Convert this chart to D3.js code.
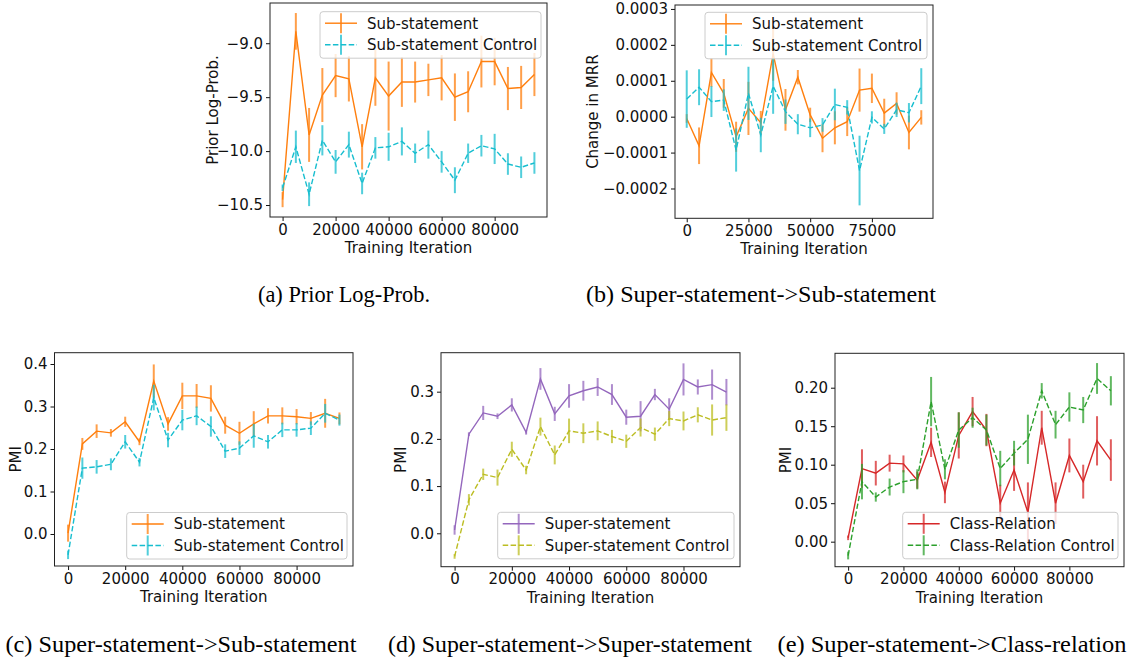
<!DOCTYPE html>
<html>
<head>
<meta charset="utf-8">
<script src="https://cdn.jsdelivr.net/npm/d3@7"></script>
<style>
  body { margin: 0; background: #fff; }
  svg { display: block; }
  text { font-family: "DejaVu Sans", sans-serif; }
  .caption { font-family: "Liberation Serif", "Times New Roman", serif; }
</style>
</head>
<body>
<svg id="fig" width="1132" height="659"></svg>
<script>
// training iterations shared by every panel
const iterations = [0, 5000, 10000, 15000, 20000, 25000, 30000, 35000, 40000, 45000,
                    50000, 55000, 60000, 65000, 70000, 75000, 80000, 85000, 90000, 95000];

// (a) prior log-prob
const priorSub      = [-10.45, -8.89, -9.85, -9.48, -9.30, -9.33, -9.96, -9.32, -9.49, -9.36,
                       -9.36, -9.34, -9.32, -9.50, -9.45, -9.17, -9.17, -9.42, -9.41, -9.29];
const priorSubErr   = [0.07, 0.17, 0.25, 0.25, 0.20, 0.21, 0.21, 0.26, 0.32, 0.23,
                       0.19, 0.15, 0.21, 0.22, 0.19, 0.24, 0.22, 0.20, 0.20, 0.20];
const priorCtrl     = [-10.34, -9.96, -10.40, -9.90, -10.10, -9.94, -10.30, -9.97, -9.96, -9.91,
                       -10.02, -9.94, -10.10, -10.27, -10.02, -9.95, -9.98, -10.12, -10.15, -10.11];
const priorCtrlErr  = [0.03, 0.15, 0.11, 0.14, 0.11, 0.12, 0.10, 0.10, 0.13, 0.13,
                       0.09, 0.13, 0.10, 0.12, 0.09, 0.10, 0.14, 0.10, 0.10, 0.10];

// (b) change in MRR
const mrrSub     = [-0.05e-4, -0.81e-4, 1.23e-4, 0.65e-4, -0.56e-4, 0.23e-4, -0.17e-4, 1.75e-4, 0.19e-4, 1.10e-4,
                    0.05e-4, -0.60e-4, -0.31e-4, -0.14e-4, 0.74e-4, 0.79e-4, 0.10e-4, 0.37e-4, -0.44e-4, -0.02e-4];
const mrrSubErr  = [0.12e-4, 0.51e-4, 0.40e-4, 0.40e-4, 0.42e-4, 0.74e-4, 0.33e-4, 0.75e-4, 0.58e-4, 0.20e-4,
                    0.20e-4, 0.39e-4, 0.46e-4, 0.40e-4, 0.60e-4, 0.41e-4, 0.40e-4, 0.31e-4, 0.47e-4, 0.20e-4];
const mrrCtrl    = [0.49e-4, 0.82e-4, 0.42e-4, 0.46e-4, -0.93e-4, 0.65e-4, -0.51e-4, 0.85e-4, 0.14e-4, -0.21e-4,
                    -0.31e-4, -0.23e-4, 0.34e-4, 0.26e-4, -1.50e-4, -0.02e-4, -0.34e-4, 0.19e-4, 0.11e-4, 0.85e-4];
const mrrCtrlErr = [0.80e-4, 0.50e-4, 0.43e-4, 0.30e-4, 0.60e-4, 0.74e-4, 0.48e-4, 0.77e-4, 0.34e-4, 0.28e-4,
                    0.26e-4, 0.19e-4, 0.44e-4, 0.20e-4, 0.97e-4, 0.17e-4, 0.14e-4, 0.20e-4, 0.27e-4, 0.50e-4];

// (c) PMI super -> sub
const pmiSub        = [0.002, 0.212, 0.242, 0.238, 0.264, 0.217, 0.360, 0.259, 0.325, 0.325,
                       0.319, 0.256, 0.237, 0.259, 0.278, 0.278, 0.276, 0.272, 0.284, 0.272];
const pmiSubErr     = [0.020, 0.014, 0.016, 0.009, 0.012, 0.008, 0.039, 0.016, 0.031, 0.028,
                       0.031, 0.020, 0.027, 0.030, 0.018, 0.020, 0.018, 0.015, 0.034, 0.014];
const pmiSubCtrl    = [-0.049, 0.155, 0.158, 0.164, 0.217, 0.169, 0.321, 0.221, 0.268, 0.278,
                       0.253, 0.195, 0.202, 0.231, 0.217, 0.245, 0.245, 0.249, 0.284, 0.268];
const pmiSubCtrlErr = [0.010, 0.025, 0.016, 0.014, 0.016, 0.010, 0.030, 0.017, 0.024, 0.022,
                       0.024, 0.016, 0.016, 0.028, 0.016, 0.017, 0.016, 0.016, 0.022, 0.013];

// (d) PMI super -> super
const pmiSuper        = [0.007, 0.210, 0.255, 0.248, 0.272, 0.214, 0.327, 0.253, 0.291, 0.302,
                         0.310, 0.294, 0.246, 0.248, 0.294, 0.263, 0.326, 0.310, 0.315, 0.299];
const pmiSuperErr     = [0.010, 0.004, 0.015, 0.006, 0.014, 0.005, 0.023, 0.015, 0.025, 0.021,
                         0.019, 0.022, 0.016, 0.032, 0.012, 0.023, 0.034, 0.016, 0.032, 0.028];
const pmiSuperCtrl    = [-0.049, 0.071, 0.125, 0.118, 0.178, 0.134, 0.226, 0.166, 0.217, 0.212,
                         0.217, 0.205, 0.195, 0.224, 0.210, 0.243, 0.238, 0.251, 0.240, 0.245];
const pmiSuperCtrlErr = [0.005, 0.012, 0.012, 0.017, 0.016, 0.009, 0.019, 0.020, 0.026, 0.021,
                         0.020, 0.014, 0.014, 0.019, 0.014, 0.016, 0.020, 0.016, 0.033, 0.028];

// (e) PMI super -> class relation
const pmiClass        = [0.005, 0.095, 0.089, 0.102, 0.101, 0.080, 0.129, 0.064, 0.138, 0.169,
                         0.145, 0.050, 0.093, 0.038, 0.148, 0.050, 0.112, 0.078, 0.131, 0.106];
const pmiClassErr     = [0.003, 0.025, 0.016, 0.011, 0.011, 0.011, 0.019, 0.014, 0.030, 0.019,
                         0.021, 0.024, 0.027, 0.039, 0.022, 0.027, 0.022, 0.022, 0.032, 0.027];
const pmiClassCtrl    = [-0.018, 0.078, 0.058, 0.071, 0.078, 0.081, 0.182, 0.094, 0.145, 0.161,
                         0.145, 0.095, 0.115, 0.133, 0.196, 0.152, 0.175, 0.171, 0.212, 0.196];
const pmiClassCtrlErr = [0.005, 0.023, 0.006, 0.011, 0.015, 0.013, 0.032, 0.013, 0.023, 0.013,
                         0.020, 0.023, 0.016, 0.032, 0.010, 0.018, 0.019, 0.017, 0.020, 0.019];

// tick values
const xTicks20k   = [0, 20000, 40000, 60000, 80000];
const xTicks25k   = [0, 25000, 50000, 75000];
const priorTicks  = [-10.5, -10.0, -9.5, -9.0];
const mrrTicks    = [-0.0002, -0.0001, 0, 0.0001, 0.0002, 0.0003];
const pmiTicks4   = [0.0, 0.1, 0.2, 0.3, 0.4];
const pmiTicks3   = [0.0, 0.1, 0.2, 0.3];
const classTicks  = [0.00, 0.05, 0.10, 0.15, 0.20];

const captions = ["(a) Prior Log-Prob.", "(b) Super-statement->Sub-statement",
                  "(c) Super-statement->Sub-statement", "(d) Super-statement->Super-statement",
                  "(e) Super-statement->Class-relation"];

const svg = d3.select('#fig');
const xDomain = [-4750, 99750];
const fontSize = 15;

function drawPanel(cfg) {
  var x = d3.scaleLinear().domain(xDomain).range([cfg.left, cfg.right]);
  var y = d3.scaleLinear().domain(cfg.yDomain).range([cfg.bottom, cfg.top]);
  var g = svg.append('g');

  cfg.series.forEach(function(s) {
    var pts = iterations.map(function(it, i) {
      return {x: it, y: s.values[i], e: s.errors[i]};
    });
    g.append('g').selectAll('line').data(pts).enter().append('line')
      .attr('x1', function(d) { return x(d.x); })
      .attr('x2', function(d) { return x(d.x); })
      .attr('y1', function(d) { return y(d.y - d.e); })
      .attr('y2', function(d) { return y(d.y + d.e); })
      .attr('stroke', s.color)
      .attr('stroke-width', 2)
      .attr('stroke-opacity', 0.75);
    g.append('path').datum(pts)
      .attr('d', d3.line().x(function(d) { return x(d.x); }).y(function(d) { return y(d.y); }))
      .attr('fill', 'none')
      .attr('stroke', s.color)
      .attr('stroke-width', 1.4)
      .attr('stroke-dasharray', s.dashed ? '5.5,2.4' : null);
  });

  // axes
  var xAxis = g.append('g')
    .attr('transform', 'translate(0,' + cfg.bottom + ')')
    .call(d3.axisBottom(x).tickValues(cfg.xTicks).tickFormat(d3.format('d')).tickSize(4).tickPadding(3));
  var yAxis = g.append('g')
    .attr('transform', 'translate(' + cfg.left + ',0)')
    .call(d3.axisLeft(y).tickValues(cfg.yTicks).tickFormat(d3.format(cfg.yFormat)).tickSize(4).tickPadding(3));
  [xAxis, yAxis].forEach(function(a) {
    a.select('.domain').remove();
    a.selectAll('text').attr('font-size', fontSize).attr('fill', '#111').attr('font-family', '"DejaVu Sans", sans-serif');
    a.selectAll('line').attr('stroke', '#111').attr('stroke-width', 1);
  });

  g.append('rect')
    .attr('x', cfg.left).attr('y', cfg.top)
    .attr('width', cfg.right - cfg.left).attr('height', cfg.bottom - cfg.top)
    .attr('fill', 'none').attr('stroke', '#222').attr('stroke-width', 1);

  g.append('text')
    .attr('x', (cfg.left + cfg.right) / 2).attr('y', cfg.bottom + 36)
    .attr('text-anchor', 'middle').attr('font-size', fontSize).attr('fill', '#111')
    .text('Training Iteration');

  // ylabelX is the centre of the rotated label
  g.append('text')
    .attr('transform', 'translate(' + (cfg.ylabelX + 5.5) + ',' + ((cfg.top + cfg.bottom) / 2) + ') rotate(-90)')
    .attr('text-anchor', 'middle').attr('font-size', fontSize).attr('fill', '#111')
    .text(cfg.ylabel);

  // legend
  var lg = cfg.legend;
  var boxW = cfg.right - 6 - lg.x;
  var leg = g.append('g');
  leg.append('rect')
    .attr('x', lg.x).attr('y', lg.y).attr('width', boxW).attr('height', 46.5)
    .attr('rx', 3).attr('fill', '#fff').attr('fill-opacity', 0.8)
    .attr('stroke', '#ccc').attr('stroke-width', 1);
  cfg.series.forEach(function(s, i) {
    var cy = lg.y + 11.5 + i * 21.5;
    leg.append('line')
      .attr('x1', lg.x + 5).attr('x2', lg.x + 37).attr('y1', cy).attr('y2', cy)
      .attr('stroke', s.color).attr('stroke-width', 1.4)
      .attr('stroke-dasharray', s.dashed ? '5.5,2.4' : null);
    leg.append('line')
      .attr('x1', lg.x + 21).attr('x2', lg.x + 21).attr('y1', cy - 10).attr('y2', cy + 10)
      .attr('stroke', s.color).attr('stroke-width', 2).attr('stroke-opacity', 0.75);
    leg.append('text')
      .attr('x', lg.x + 47).attr('y', cy).attr('dy', '0.36em')
      .attr('font-size', fontSize).attr('fill', '#111')
      .text(s.name);
  });
}

const orange = '#ff7f0e', cyan = '#17becf', purple = '#9467bd', olive = '#bcbd22', red = '#d62728', green = '#2ca02c';

drawPanel({
  left: 270, right: 547, top: 3, bottom: 217,
  yDomain: [-10.611, -8.627], yTicks: priorTicks, yFormat: '.1f', xTicks: xTicks20k,
  ylabel: 'Prior Log-Prob.', ylabelX: 212,
  legend: {x: 320, y: 11.7},
  series: [
    {name: 'Sub-statement', values: priorSub, errors: priorSubErr, color: orange, dashed: false},
    {name: 'Sub-statement Control', values: priorCtrl, errors: priorCtrlErr, color: cyan, dashed: true}
  ]
});

drawPanel({
  left: 675, right: 933, top: 5, bottom: 218.3,
  yDomain: [-0.000283, 0.000311], yTicks: mrrTicks, yFormat: '.4f', xTicks: xTicks25k,
  ylabel: 'Change in MRR', ylabelX: 592,
  legend: {x: 705, y: 12.3},
  series: [
    {name: 'Sub-statement', values: mrrSub, errors: mrrSubErr, color: orange, dashed: false},
    {name: 'Sub-statement Control', values: mrrCtrl, errors: mrrCtrlErr, color: cyan, dashed: true}
  ]
});

drawPanel({
  left: 54.5, right: 353, top: 352.7, bottom: 566,
  yDomain: [-0.0753, 0.4266], yTicks: pmiTicks4, yFormat: '.1f', xTicks: xTicks20k,
  ylabel: 'PMI', ylabelX: 15,
  legend: {x: 126.7, y: 512.5},
  series: [
    {name: 'Sub-statement', values: pmiSub, errors: pmiSubErr, color: orange, dashed: false},
    {name: 'Sub-statement Control', values: pmiSubCtrl, errors: pmiSubCtrlErr, color: cyan, dashed: true}
  ]
});

drawPanel({
  left: 441, right: 740, top: 352.7, bottom: 566.7,
  yDomain: [-0.0708, 0.3826], yTicks: pmiTicks3, yFormat: '.1f', xTicks: xTicks20k,
  ylabel: 'PMI', ylabelX: 400,
  legend: {x: 497.7, y: 512.3},
  series: [
    {name: 'Super-statement', values: pmiSuper, errors: pmiSuperErr, color: purple, dashed: false},
    {name: 'Super-statement Control', values: pmiSuperCtrl, errors: pmiSuperCtrlErr, color: olive, dashed: true}
  ]
});

drawPanel({
  left: 835, right: 1124, top: 353.3, bottom: 566.7,
  yDomain: [-0.0325, 0.2447], yTicks: classTicks, yFormat: '.2f', xTicks: xTicks20k,
  ylabel: 'PMI', ylabelX: 785,
  legend: {x: 902.7, y: 512.3},
  series: [
    {name: 'Class-Relation', values: pmiClass, errors: pmiClassErr, color: red, dashed: false},
    {name: 'Class-Relation Control', values: pmiClassCtrl, errors: pmiClassCtrlErr, color: green, dashed: true}
  ]
});

// sub-figure captions (narrow serif, stretched to the widths seen in the figure)
const captionPos = [[344, 302], [761, 302], [181, 652], [570, 652], [952, 652]];
const captionWidth = [172, 350, 351, 364, 349];
svg.selectAll('text.caption').data(captions).enter().append('text')
  .attr('class', 'caption')
  .attr('x', function(d, i) { return captionPos[i][0]; })
  .attr('y', function(d, i) { return captionPos[i][1]; })
  .attr('text-anchor', 'middle')
  .attr('font-size', 24)
  .attr('textLength', function(d, i) { return captionWidth[i]; })
  .attr('lengthAdjust', 'spacingAndGlyphs')
  .attr('fill', '#000')
  .text(function(d) { return d; });
</script>
</body>
</html>
